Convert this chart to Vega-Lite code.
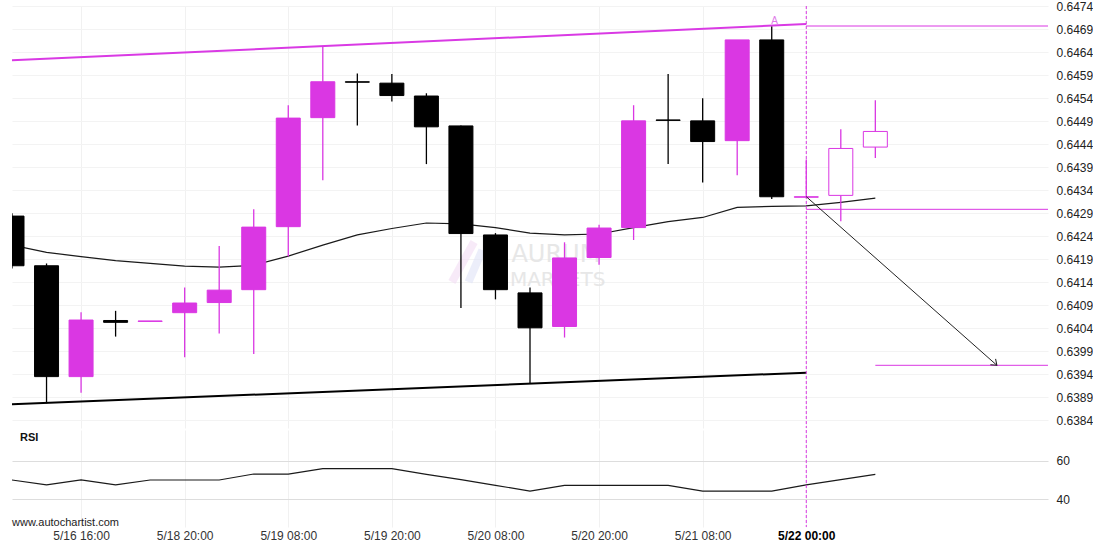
{
  "$schema": "https://vega.github.io/schema/vega-lite/v6.json",
  "padding": {"left": 8, "top": 0, "right": 0, "bottom": 0},
  "background": "white",
  "spacing": 0,
  "config": {"view": {"stroke": null}, "font": "Liberation Sans", "axis": {"labelOverlap": false}},
  "datasets": {
    "candles": [
      {"i": 0, "open": 0.64284, "high": 0.64290, "low": 0.64170, "close": 0.64176, "kind": "down"},
      {"i": 1, "open": 0.64176, "high": 0.64181, "low": 0.63877, "close": 0.63935, "kind": "down"},
      {"i": 2, "open": 0.63935, "high": 0.64075, "low": 0.63900, "close": 0.64058, "kind": "up"},
      {"i": 3, "open": 0.64057, "high": 0.64078, "low": 0.64022, "close": 0.64053, "kind": "down"},
      {"i": 4, "open": 0.64055, "high": 0.64056, "low": 0.64055, "close": 0.64056, "kind": "up"},
      {"i": 5, "open": 0.64074, "high": 0.64129, "low": 0.63977, "close": 0.64095, "kind": "up"},
      {"i": 6, "open": 0.64096, "high": 0.64219, "low": 0.64029, "close": 0.64123, "kind": "up"},
      {"i": 7, "open": 0.64124, "high": 0.64299, "low": 0.63984, "close": 0.64260, "kind": "up"},
      {"i": 8, "open": 0.64261, "high": 0.64525, "low": 0.64196, "close": 0.64497, "kind": "up"},
      {"i": 9, "open": 0.64498, "high": 0.64652, "low": 0.64362, "close": 0.64576, "kind": "up"},
      {"i": 10, "open": 0.64576, "high": 0.64594, "low": 0.64481, "close": 0.64575, "kind": "down"},
      {"i": 11, "open": 0.64573, "high": 0.64593, "low": 0.64533, "close": 0.64546, "kind": "down"},
      {"i": 12, "open": 0.64545, "high": 0.64551, "low": 0.64397, "close": 0.64478, "kind": "down"},
      {"i": 13, "open": 0.64480, "high": 0.64481, "low": 0.64084, "close": 0.64246, "kind": "down"},
      {"i": 14, "open": 0.64243, "high": 0.64247, "low": 0.64103, "close": 0.64124, "kind": "down"},
      {"i": 15, "open": 0.64117, "high": 0.64129, "low": 0.63920, "close": 0.64041, "kind": "down"},
      {"i": 16, "open": 0.64044, "high": 0.64227, "low": 0.64020, "close": 0.64193, "kind": "up"},
      {"i": 17, "open": 0.64194, "high": 0.64265, "low": 0.64178, "close": 0.64258, "kind": "up"},
      {"i": 18, "open": 0.64259, "high": 0.64525, "low": 0.64232, "close": 0.64491, "kind": "up"},
      {"i": 19, "open": 0.64493, "high": 0.64593, "low": 0.64397, "close": 0.64492, "kind": "down"},
      {"i": 20, "open": 0.64491, "high": 0.64540, "low": 0.64357, "close": 0.64446, "kind": "down"},
      {"i": 21, "open": 0.64448, "high": 0.64667, "low": 0.64373, "close": 0.64667, "kind": "up"},
      {"i": 22, "open": 0.64667, "high": 0.64696, "low": 0.64321, "close": 0.64326, "kind": "down"},
      {"i": 23, "open": 0.64325, "high": 0.64407, "low": 0.64325, "close": 0.64326, "kind": "up"},
      {"i": 24, "open": 0.64329, "high": 0.64473, "low": 0.64273, "close": 0.64431, "kind": "open"},
      {"i": 25, "open": 0.64434, "high": 0.64536, "low": 0.64410, "close": 0.64468, "kind": "open"}
    ],
    "ma": [
      {"i": 0, "v": 0.64221}, {"i": 1, "v": 0.64205}, {"i": 2, "v": 0.64196}, {"i": 3, "v": 0.64187},
      {"i": 4, "v": 0.64181}, {"i": 5, "v": 0.64175}, {"i": 6, "v": 0.64173}, {"i": 7, "v": 0.64177},
      {"i": 8, "v": 0.64197}, {"i": 9, "v": 0.64221}, {"i": 10, "v": 0.64243}, {"i": 11, "v": 0.64257},
      {"i": 12, "v": 0.64269}, {"i": 13, "v": 0.64267}, {"i": 14, "v": 0.64259}, {"i": 15, "v": 0.64247},
      {"i": 16, "v": 0.64243}, {"i": 17, "v": 0.64245}, {"i": 18, "v": 0.64259}, {"i": 19, "v": 0.64272},
      {"i": 20, "v": 0.64281}, {"i": 21, "v": 0.64303}, {"i": 22, "v": 0.64305}, {"i": 23, "v": 0.64306},
      {"i": 24, "v": 0.64314}, {"i": 25, "v": 0.64323}
    ],
    "rsi": [
      {"i": 0, "v": 50.1}, {"i": 1, "v": 47.5}, {"i": 2, "v": 50.1}, {"i": 3, "v": 47.5},
      {"i": 4, "v": 50.1}, {"i": 5, "v": 50.1}, {"i": 6, "v": 50.1}, {"i": 7, "v": 53.2},
      {"i": 8, "v": 53.2}, {"i": 9, "v": 56.0}, {"i": 10, "v": 56.0}, {"i": 11, "v": 56.0},
      {"i": 12, "v": 53.0}, {"i": 13, "v": 50.3}, {"i": 14, "v": 47.3}, {"i": 15, "v": 44.3},
      {"i": 16, "v": 47.3}, {"i": 17, "v": 47.3}, {"i": 18, "v": 47.3}, {"i": 19, "v": 47.3},
      {"i": 20, "v": 44.3}, {"i": 21, "v": 44.3}, {"i": 22, "v": 44.3}, {"i": 23, "v": 47.5},
      {"i": 24, "v": 50.3}, {"i": 25, "v": 53.0}
    ],
    "trend": [
      {"line": "upper", "i": 0, "v": 0.646226}, {"line": "upper", "i": 23, "v": 0.647016},
      {"line": "lower", "i": 0, "v": 0.638748}, {"line": "lower", "i": 23, "v": 0.639436}
    ],
    "levels": [
      {"i": 23, "i2": 30, "v": 0.646972},
      {"i": 23, "i2": 30, "v": 0.642987},
      {"i": 25, "i2": 30, "v": 0.639596}
    ],
    "arrow": [
      {"i": 23, "v": 0.643262, "end": false},
      {"i": 28.52, "v": 0.639596, "end": true}
    ],
    "logo": [
      {"i": 12.74, "v": 0.641407, "i2": 13.38, "v2": 0.642277, "part": "a"},
      {"i": 13.22, "v": 0.641407, "i2": 13.62, "v2": 0.642103, "part": "b"}
    ],
    "brand": [
      {"i": 15.75, "v": 0.641840, "t": "AURUM", "w": "bold", "s": 24},
      {"i": 15.8, "v": 0.641320, "t": "MARKETS", "w": "normal", "s": 20}
    ],
    "marker": [{"i": 22.08, "v": 0.647088, "t": "A"}],
    "cut": [{"i": 23}],
    "rsilabel": [{"i": 0.23, "v": 72.2, "t": "RSI"}],
    "site": [{"i": 0, "v": 27.6, "t": "www.autochartist.com"}]
  },
  "vconcat": [
    {
      "width": 1036,
      "height": 422,
      "resolve": {"scale": {"color": "independent", "stroke": "independent", "fill": "independent"}},
      "layer": [
        {
          "data": {"name": "brand"},
          "mark": {"type": "text", "color": "#e3e3e3", "align": "center", "baseline": "alphabetic", "opacity": 0.85, "font": "DejaVu Sans"},
          "encoding": {
            "x": {"field": "i", "type": "quantitative", "scale": {"domain": [0, 30], "zero": false, "nice": false, "padding": 0}, "title": null,
              "axis": {"values": [2, 5, 8, 11, 14, 17, 20, 23], "tickCount": 40, "labels": false, "ticks": false, "domain": false, "grid": true, "gridColor": "#f1f1f1", "title": null}},
            "y": {"field": "v", "type": "quantitative", "scale": {"domain": [0.638233, 0.647407], "zero": false, "nice": false, "padding": 0}, "title": null,
              "axis": {"orient": "right", "values": [0.6384, 0.6389, 0.6394, 0.6399, 0.6404, 0.6409, 0.6414, 0.6419, 0.6424, 0.6429, 0.6434, 0.6439, 0.6444, 0.6449, 0.6454, 0.6459, 0.6464, 0.6469, 0.6474],
                "tickCount": 40, "format": ".4f", "grid": true, "gridColor": "#f3f3f3", "ticks": false, "domain": false, "labelPadding": 8, "labelFontSize": 12, "labelColor": "#222222", "labelFont": "Liberation Sans", "labelOverlap": false, "labelFlush": false, "title": null}},
            "text": {"field": "t"},
            "fontWeight": {"field": "w", "type": "nominal", "scale": null},
            "size": {"field": "s", "type": "quantitative", "scale": null}
          }
        },
        {
          "data": {"name": "logo"},
          "mark": {"type": "rule", "strokeWidth": 8, "opacity": 0.6},
          "encoding": {
            "x": {"field": "i", "type": "quantitative", "scale": {"domain": [0, 30], "zero": false, "nice": false, "padding": 0}, "title": null},
            "x2": {"field": "i2"},
            "y": {"field": "v", "type": "quantitative", "scale": {"domain": [0.638233, 0.647407], "zero": false, "nice": false, "padding": 0}, "title": null},
            "y2": {"field": "v2"},
            "color": {"field": "part", "type": "nominal", "scale": {"domain": ["a", "b"], "range": ["#f1dcf3", "#dfe3f6"]}, "legend": null}
          }
        },
        {
          "data": {"name": "trend"},
          "mark": {"type": "line", "strokeWidth": 2},
          "encoding": {
            "x": {"field": "i", "type": "quantitative", "scale": {"domain": [0, 30], "zero": false, "nice": false, "padding": 0}, "title": null},
            "y": {"field": "v", "type": "quantitative", "scale": {"domain": [0.638233, 0.647407], "zero": false, "nice": false, "padding": 0}, "title": null},
            "detail": {"field": "line"},
            "stroke": {"field": "line", "type": "nominal", "scale": {"domain": ["upper", "lower"], "range": ["#d93ae4", "#000000"]}, "legend": null}
          }
        },
        {
          "data": {"name": "ma"},
          "mark": {"type": "line", "strokeWidth": 1.2, "color": "#1a1a1a", "clip": true},
          "encoding": {
            "x": {"field": "i", "type": "quantitative", "scale": {"domain": [0, 30], "zero": false, "nice": false, "padding": 0}, "title": null},
            "y": {"field": "v", "type": "quantitative", "scale": {"domain": [0.638233, 0.647407], "zero": false, "nice": false, "padding": 0}, "title": null}
          }
        },
        {
          "data": {"name": "candles"},
          "mark": {"type": "rule", "strokeWidth": 1.3, "clip": true},
          "encoding": {
            "x": {"field": "i", "type": "quantitative", "scale": {"domain": [0, 30], "zero": false, "nice": false, "padding": 0}, "title": null},
            "y": {"field": "low", "type": "quantitative", "scale": {"domain": [0.638233, 0.647407], "zero": false, "nice": false, "padding": 0}, "title": null},
            "y2": {"field": "high"},
            "color": {"field": "kind", "type": "nominal", "scale": {"domain": ["up", "down", "open"], "range": ["#da37e3", "#000000", "#da37e3"]}, "legend": null}
          }
        },
        {
          "data": {"name": "candles"},
          "mark": {"type": "bar", "size": 24, "strokeWidth": 1, "clip": true},
          "encoding": {
            "x": {"field": "i", "type": "quantitative", "scale": {"domain": [0, 30], "zero": false, "nice": false, "padding": 0}, "title": null},
            "y": {"field": "open", "type": "quantitative", "scale": {"domain": [0.638233, 0.647407], "zero": false, "nice": false, "padding": 0}, "title": null},
            "y2": {"field": "close"},
            "fill": {"field": "kind", "type": "nominal", "scale": {"domain": ["up", "down", "open"], "range": ["#da37e3", "#000000", "#ffffff"]}, "legend": null},
            "stroke": {"field": "kind", "type": "nominal", "scale": {"domain": ["up", "down", "open"], "range": ["#da37e3", "#000000", "#da37e3"]}, "legend": null}
          }
        },
        {
          "data": {"name": "levels"},
          "mark": {"type": "rule", "strokeWidth": 1, "color": "#da37e3"},
          "encoding": {
            "x": {"field": "i", "type": "quantitative", "scale": {"domain": [0, 30], "zero": false, "nice": false, "padding": 0}, "title": null},
            "x2": {"field": "i2"},
            "y": {"field": "v", "type": "quantitative", "scale": {"domain": [0.638233, 0.647407], "zero": false, "nice": false, "padding": 0}, "title": null}
          }
        },
        {
          "data": {"name": "cut"},
          "mark": {"type": "rule", "strokeWidth": 1, "color": "#da37e3", "strokeDash": [3, 2]},
          "encoding": {
            "x": {"field": "i", "type": "quantitative", "scale": {"domain": [0, 30], "zero": false, "nice": false, "padding": 0}, "title": null}
          }
        },
        {
          "data": {"name": "arrow"},
          "mark": {"type": "line", "strokeWidth": 1, "color": "#222222"},
          "encoding": {
            "x": {"field": "i", "type": "quantitative", "scale": {"domain": [0, 30], "zero": false, "nice": false, "padding": 0}, "title": null},
            "y": {"field": "v", "type": "quantitative", "scale": {"domain": [0.638233, 0.647407], "zero": false, "nice": false, "padding": 0}, "title": null}
          }
        },
        {
          "data": {"name": "arrow"},
          "transform": [{"filter": "datum.end"}],
          "mark": {"type": "point", "shape": "M-1,-0.75L0,0L-1,0.75", "filled": false, "stroke": "#222222", "strokeWidth": 1, "size": 110, "angle": 41.6, "opacity": 1},
          "encoding": {
            "x": {"field": "i", "type": "quantitative", "scale": {"domain": [0, 30], "zero": false, "nice": false, "padding": 0}, "title": null},
            "y": {"field": "v", "type": "quantitative", "scale": {"domain": [0.638233, 0.647407], "zero": false, "nice": false, "padding": 0}, "title": null}
          }
        },
        {
          "data": {"name": "marker"},
          "mark": {"type": "text", "color": "#e07ae8", "fontSize": 10, "align": "center", "baseline": "middle"},
          "encoding": {
            "x": {"field": "i", "type": "quantitative", "scale": {"domain": [0, 30], "zero": false, "nice": false, "padding": 0}, "title": null},
            "y": {"field": "v", "type": "quantitative", "scale": {"domain": [0.638233, 0.647407], "zero": false, "nice": false, "padding": 0}, "title": null},
            "text": {"field": "t"}
          }
        }
      ]
    },
    {
      "width": 1036,
      "height": 97,
      "layer": [
        {
          "data": {"name": "rsi"},
          "mark": {"type": "line", "strokeWidth": 1.2, "color": "#1a1a1a"},
          "encoding": {
            "x": {"field": "i", "type": "quantitative", "scale": {"domain": [0, 30], "zero": false, "nice": false, "padding": 0}, "title": null,
              "axis": {"values": [2, 5, 8, 11, 14, 17, 20, 23], "tickCount": 40, "labelExpr": "datum.value == 2 ? '5/16 16:00' : datum.value == 5 ? '5/18 20:00' : datum.value == 8 ? '5/19 08:00' : datum.value == 11 ? '5/19 20:00' : datum.value == 14 ? '5/20 08:00' : datum.value == 17 ? '5/20 20:00' : datum.value == 20 ? '5/21 08:00' : '5/22 00:00'",
                "labelFontWeight": {"condition": {"test": "datum.value == 23", "value": "bold"}, "value": "normal"},
                "labelColor": {"condition": {"test": "datum.value == 23", "value": "#000000"}, "value": "#333333"},
                "labelFontSize": 12, "labelFont": "Liberation Sans", "labelPadding": 3, "labelFlush": false, "labelOverlap": false,
                "ticks": false, "domain": false, "grid": true, "gridColor": "#f1f1f1", "title": null}},
            "y": {"field": "v", "type": "quantitative", "scale": {"domain": [25.57, 76.17], "zero": false, "nice": false, "padding": 0}, "title": null,
              "axis": {"orient": "right", "values": [40, 60], "tickCount": 10, "grid": true, "gridColor": "#dddddd", "ticks": false, "domain": false, "labelPadding": 8, "labelFontSize": 12, "labelColor": "#222222", "labelFont": "Liberation Sans", "title": null}}
          }
        },
        {
          "data": {"name": "cut"},
          "mark": {"type": "rule", "strokeWidth": 1, "color": "#da37e3", "strokeDash": [3, 2]},
          "encoding": {
            "x": {"field": "i", "type": "quantitative", "scale": {"domain": [0, 30], "zero": false, "nice": false, "padding": 0}, "title": null}
          }
        },
        {
          "data": {"name": "rsilabel"},
          "mark": {"type": "text", "fontSize": 11, "fontWeight": "bold", "align": "left", "baseline": "middle", "color": "#111111"},
          "encoding": {
            "x": {"field": "i", "type": "quantitative", "scale": {"domain": [0, 30], "zero": false, "nice": false, "padding": 0}, "title": null},
            "y": {"field": "v", "type": "quantitative", "scale": {"domain": [25.57, 76.17], "zero": false, "nice": false, "padding": 0}, "title": null},
            "text": {"field": "t"}
          }
        },
        {
          "data": {"name": "site"},
          "mark": {"type": "text", "fontSize": 11, "align": "left", "baseline": "middle", "color": "#222222"},
          "encoding": {
            "x": {"field": "i", "type": "quantitative", "scale": {"domain": [0, 30], "zero": false, "nice": false, "padding": 0}, "title": null},
            "y": {"field": "v", "type": "quantitative", "scale": {"domain": [25.57, 76.17], "zero": false, "nice": false, "padding": 0}, "title": null},
            "text": {"field": "t"}
          }
        }
      ]
    }
  ]
}
